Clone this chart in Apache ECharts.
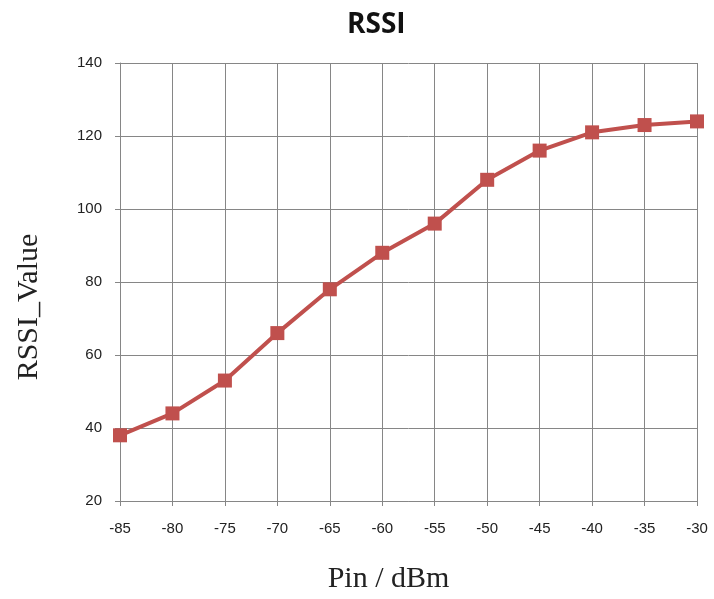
<!DOCTYPE html>
<html><head><meta charset="utf-8">
<script src="https://cdn.jsdelivr.net/npm/echarts@6/dist/echarts.min.js"></script>
<style>html,body{margin:0;padding:0;background:#fff}#c{width:714px;height:599px}</style>
</head><body><div id="c"></div>
<script>
var categories = ['-85','-80','-75','-70','-65','-60','-55','-50','-45','-40','-35','-30'];
var rssiValues = [38, 44, 53, 66, 78, 88, 96, 108, 116, 121, 123, 124];
var chart = echarts.init(document.getElementById('c'));
chart.setOption({
  animation: false,
  title: {text: 'RSSI', left: 342, top: 6, textStyle: {fontFamily: 'Open Sans', fontWeight: 'bold', fontSize: 28, color: '#111'}},
  grid: {left: 120, right: 17, top: 63, bottom: 96, containLabel: false},
  xAxis: {
    type: 'category', data: categories, boundaryGap: false,
    name: 'Pin / dBm', nameLocation: 'middle', nameGap: 63,
    nameTextStyle: {fontFamily: 'Liberation Serif', fontSize: 30, color: '#222', padding: [0, 40, 0, 0]},
    axisLine: {lineStyle: {color: '#868686', width: 1}},
    axisTick: {show: true, alignWithLabel: true, length: 5, lineStyle: {color: '#868686'}},
    axisLabel: {fontFamily: 'Liberation Sans', fontSize: 15, color: '#222', margin: 20},
    splitLine: {show: true, lineStyle: {color: '#868686', width: 1}}
  },
  yAxis: {
    type: 'value', min: 20, max: 140, interval: 20,
    name: 'RSSI_Value', nameLocation: 'middle', nameGap: 76, nameRotate: 90,
    nameTextStyle: {fontFamily: 'Liberation Serif', fontSize: 30, color: '#222', padding: [0, 50, 0, 0]},
    axisLine: {show: true, lineStyle: {color: '#868686', width: 1}},
    axisTick: {show: true, length: 5, lineStyle: {color: '#868686'}},
    axisLabel: {fontFamily: 'Liberation Sans', fontSize: 15, color: '#222', margin: 18},
    splitLine: {show: true, lineStyle: {color: '#868686', width: 1}}
  },
  series: [{
    type: 'line', data: rssiValues,
    symbol: 'rect', symbolSize: 14,
    lineStyle: {color: '#C0504D', width: 4},
    itemStyle: {color: '#C0504D'}
  }]
});
</script></body></html>
